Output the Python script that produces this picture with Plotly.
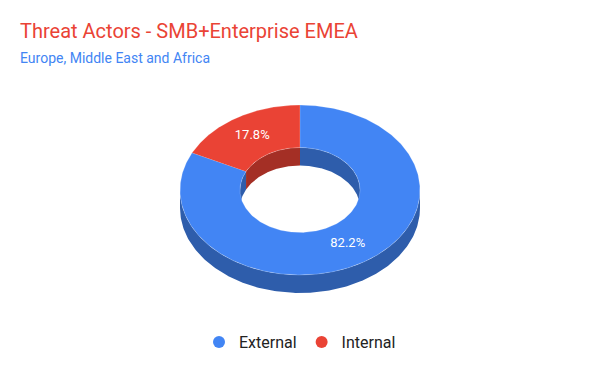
import numpy as np
import plotly.graph_objects as go

# ---- data ----
labels = ["External", "Internal"]
values = [82.2, 17.8]
colors = ["#4285F4", "#EA4335"]
dark_colors = ["#2E5DAB", "#A42F25"]
title_text = "Threat Actors - SMB+Enterprise EMEA"
subtitle_text = "Europe, Middle East and Africa"

# ---- geometry of the tilted donut (in axis units) ----
RX, RY, DEPTH, HOLE = 1.0, 0.708, 0.15, 0.5
W, H = 600, 371
OFF = 8  # page body margin
SCALE = 120.0  # px per unit
CX_PX, CY_PX = 300 - OFF, 190 - OFF


def ell(r, t, dy=0.0):
    t = np.radians(t)
    return r * RX * np.cos(t), r * RY * np.sin(t) - dy


def intersect(a_hi, a_lo, lo, hi):
    out = []
    for k in (-2, -1, 0, 1, 2):
        l, h = lo + 360 * k, hi + 360 * k
        s, e = max(a_lo, l), min(a_hi, h)
        if e > s:
            out.append((e, s))
    return out


total = sum(values)
spans = []
cum = 0.0
for v in values:
    a0 = 90 - 360 * cum / total
    cum += v
    a1 = 90 - 360 * cum / total
    spans.append((a0, a1))

fig = go.Figure()

# outer side walls (front half)
for (a0, a1), dc in zip(spans, dark_colors):
    for e, s in intersect(a0, a1, -180, 0):
        t = np.linspace(e, s, 200)
        x1, y1 = ell(1, t)
        x2, y2 = ell(1, t[::-1], DEPTH)
        fig.add_trace(go.Scatter(x=np.r_[x1, x2], y=np.r_[y1, y2], fill="toself",
                                 fillcolor=dc, mode="lines", line=dict(width=0, color=dc),
                                 showlegend=False, hoverinfo="skip"))

# inner walls (back half of hole)
for (a0, a1), dc in zip(spans, dark_colors):
    for e, s in intersect(a0, a1, 0, 180):
        t = np.linspace(e, s, 200)
        x1, y1 = ell(HOLE, t)
        x2, y2 = ell(HOLE, t[::-1], DEPTH)
        fig.add_trace(go.Scatter(x=np.r_[x1, x2], y=np.r_[y1, y2], fill="toself",
                                 fillcolor=dc, mode="lines", line=dict(width=0, color=dc),
                                 showlegend=False, hoverinfo="skip"))

# top faces
for (a0, a1), c in zip(spans, colors):
    t = np.linspace(a0, a1, 400)
    x1, y1 = ell(1, t)
    x2, y2 = ell(HOLE, t[::-1])
    fig.add_trace(go.Scatter(x=np.r_[x1, x2], y=np.r_[y1, y2], fill="toself",
                             fillcolor=c, mode="lines", line=dict(width=0.6, color="rgba(255,255,255,0.35)"),
                             showlegend=False, hoverinfo="skip"))

# percentage labels
lx, ly, lt = [], [], []
for (a0, a1), v in zip(spans, values):
    xm, ym = ell((1 + HOLE) / 2, (a0 + a1) / 2)
    lx.append(xm)
    ly.append(ym)
    lt.append(f"{v / total * 100:.1f}%")
fig.add_trace(go.Scatter(x=lx, y=ly, text=lt, mode="text",
                         textfont=dict(family="Roboto", size=13, color="white"),
                         showlegend=False, hoverinfo="skip"))

# legend entries
for name, c in zip(labels, colors):
    fig.add_trace(go.Scatter(x=[None], y=[None], mode="markers", name=name,
                             marker=dict(symbol="circle", size=12, color=c)))

fig.update_layout(
    width=W, height=H,
    margin=dict(l=0, r=0, t=0, b=0),
    paper_bgcolor="white", plot_bgcolor="white",
    xaxis=dict(range=[-CX_PX / SCALE, (W - CX_PX) / SCALE], visible=False, fixedrange=True),
    yaxis=dict(range=[-(H - CY_PX) / SCALE, CY_PX / SCALE], visible=False, fixedrange=True),
    showlegend=True,
    legend=dict(orientation="h", x=(300 - OFF) / W, xanchor="center",
                y=1 - (342 - OFF) / H, yanchor="middle",
                font=dict(family="Roboto", size=16, color="#222222"), itemwidth=30,
                bgcolor="rgba(0,0,0,0)"),
    annotations=[
        dict(text=title_text, xref="paper", yref="paper", x=(20 - OFF - 2) / W, y=1 - (31 - OFF) / H,
             xanchor="left", yanchor="middle", showarrow=False,
             font=dict(family="Roboto", size=20, color="#EA4335")),
        dict(text=subtitle_text, xref="paper", yref="paper", x=(20 - OFF - 2) / W, y=1 - (58 - OFF) / H,
             xanchor="left", yanchor="middle", showarrow=False,
             font=dict(family="Roboto", size=14, color="#4285F4")),
    ],
)

fig.write_html("out.html")
